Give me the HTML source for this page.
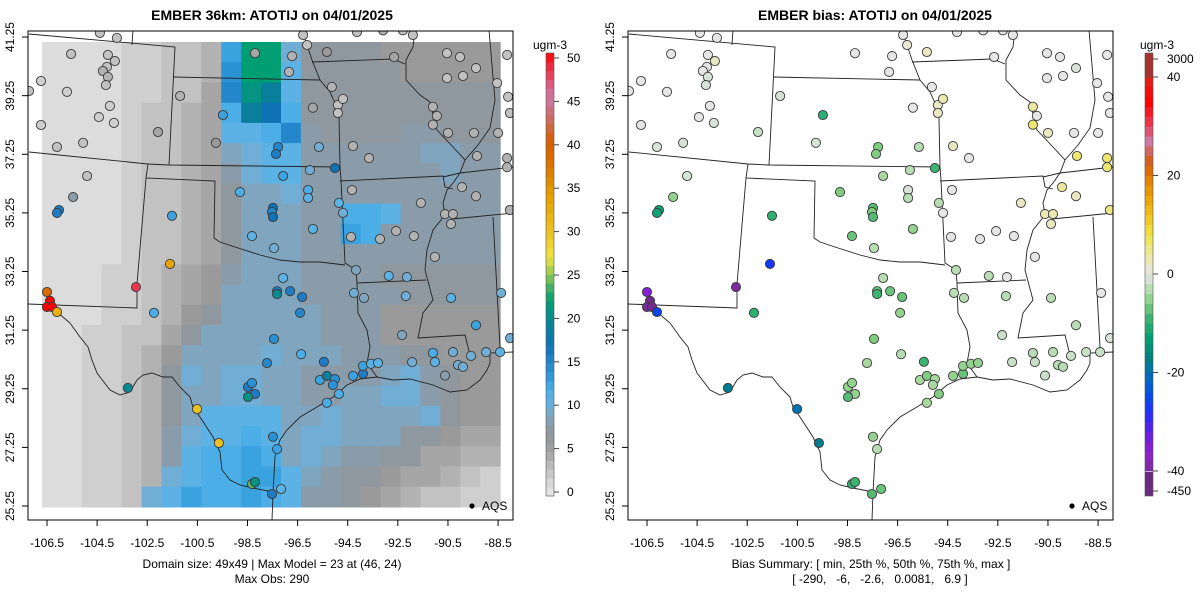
<!DOCTYPE html>
<html><head><meta charset="utf-8"><style>
html,body{margin:0;padding:0;background:#fff;}
svg{display:block;font-family:"Liberation Sans",Arial,sans-serif;}
</style></head><body>
<svg id="chart" width="1200" height="600" viewBox="0 0 1200 600" xmlns="http://www.w3.org/2000/svg">
<defs>
<clipPath id="clipL"><rect x="28" y="31" width="485" height="489"/></clipPath>
<clipPath id="clipR"><rect x="628" y="31" width="485" height="489"/></clipPath>
</defs>
<text x="272" y="20" font-size="14" font-weight="bold" text-anchor="middle">EMBER 36km: ATOTIJ on 04/01/2025</text>
<text x="875" y="20" font-size="14" font-weight="bold" text-anchor="middle">EMBER bias: ATOTIJ on 04/01/2025</text>
<g id="left-panel">
  <g id="gridL" clip-path="url(#clipL)"></g>
  <g id="bordersL" clip-path="url(#clipL)"></g>
  <g id="sitesL" clip-path="url(#clipL)"></g>
</g>
<g id="right-panel">
  <g id="bordersR" clip-path="url(#clipR)"></g>
  <g id="sitesR" clip-path="url(#clipR)"></g>
</g>
<g id="axes"></g>
<g id="cbars"></g>
<g><circle cx="472" cy="506" r="2.6" fill="#000"/><text x="482" y="510" font-size="12">AQS</text></g>
<g><circle cx="1072" cy="506" r="2.6" fill="#000"/><text x="1082" y="510" font-size="12">AQS</text></g>
<text x="272" y="568" font-size="12" text-anchor="middle">Domain size: 49x49 | Max Model = 23 at (46, 24)</text>
<text x="272" y="583" font-size="12" text-anchor="middle">Max Obs: 290</text>
<text x="871" y="568" font-size="12" text-anchor="middle">Bias Summary: [ min, 25th %, 50th %, 75th %, max ]</text>
<text x="880" y="583" font-size="12" text-anchor="middle" xml:space="preserve">[ -290,   -6,   -2.6,   0.0081,   6.9 ]</text>
</svg>
<script>
const NS="http://www.w3.org/2000/svg";
const xTicks=[-106.5,-104.5,-102.5,-100.5,-98.5,-96.5,-94.5,-92.5,-90.5,-88.5];
const yTicks=[25.25,27.25,29.25,31.25,33.25,35.25,37.25,39.25,41.25];
const concTicks=[0,5,10,15,20,25,30,35,40,45,50];
const biasTicks=[3000,40,20,0,-20,-40,-450];
const gridRows=[
"111122334dmma7777666666",
"111122334emmb7777766666",
"111122335fljb7777777777",
"111123345cjhc7777777777",
"111123345bbcf8777788777",
"1111233459abb8888889988",
"1111233458abb8888888988",
"111123345799a8888888888",
"111123345799988ccb88888",
"111123345799988dc888888",
"11112334579998888888888",
"11122345689998888777777",
"11122345699998888877777",
"11122346799999888666666",
"11223357999999888666666",
"11223469999a99988877666",
"1122347a9aa9988889a8766",
"112234799aa998899aa8766",
"11223479bbbb99a9999a766",
"1122348abbcb9aa99977655",
"1122348bccdc9a988775544",
"112234abccddb9877655432",
"11223abdccdcb8876543322"];
const siteLon=[-104.39,-103.71,-105.54,-104.07,-103.79,-104.11,-104.27,-104.07,-104.15,-106.74,-105.70,-107.22,-103.99,-104.43,-103.83,-106.74,-105.06,-106.10,-104.90,-105.46,-106.02,-106.10,-102.07,-101.19,-99.48,-99.76,-98.20,-96.72,-96.84,-97.28,-97.36,-95.65,-95.89,-95.13,-94.89,-94.69,-94.89,-96.12,-96.28,-95.33,-94.13,-93.09,-92.30,-91.90,-92.65,-94.29,-93.65,-95.01,-96.01,-97.08,-98.80,-96.08,-96.08,-94.85,-94.69,-94.33,-97.48,-97.52,-97.48,-101.51,-98.32,-95.89,-97.44,-94.37,-93.21,-92.57,-91.86,-91.02,-94.17,-92.86,-92.14,-101.59,-102.95,-106.50,-106.38,-106.50,-106.30,-106.10,-97.08,-90.54,-90.02,-89.38,-90.54,-89.90,-88.54,-88.14,-91.10,-90.94,-91.10,-90.50,-89.46,-88.50,-88.10,-88.03,-89.34,-88.14,-88.14,-89.94,-89.38,-91.58,-90.62,-90.30,-90.38,-88.03,-102.23,-103.27,-100.51,-99.64,-98.32,-98.20,-97.52,-97.16,-97.48,-97.32,-98.48,-98.32,-98.20,-98.48,-97.72,-96.36,-97.44,-96.40,-96.32,-96.80,-97.32,-97.32,-95.45,-95.61,-95.33,-95.01,-95.09,-94.85,-95.33,-94.29,-93.89,-93.89,-93.57,-93.29,-94.25,-93.85,-92.18,-90.38,-88.38,-89.38,-92.33,-91.10,-91.02,-91.93,-90.30,-89.58,-88.98,-88.42,-88.02,-90.10,-89.90,-90.62];
const siteLat=[41.39,41.22,40.67,40.64,40.43,40.23,40.09,39.89,39.61,39.75,39.38,39.41,38.90,38.52,38.32,38.25,37.64,37.50,36.51,35.79,35.35,35.25,38.01,39.24,38.59,37.64,40.70,40.60,40.06,37.50,37.26,37.50,38.84,39.55,38.93,39.14,38.66,40.98,41.32,40.74,41.42,41.48,41.48,41.32,40.57,37.53,37.12,36.78,36.71,36.51,35.96,36.03,35.76,35.59,35.25,36.03,35.42,35.28,35.11,35.15,34.46,34.70,34.05,34.43,34.36,34.63,34.46,33.75,33.30,33.10,33.06,33.51,32.72,32.55,32.25,32.04,32.04,31.87,33.03,40.70,40.57,40.19,39.85,39.92,39.68,40.64,38.87,38.56,38.26,37.98,37.98,37.98,39.21,38.66,37.19,37.12,36.81,36.13,35.82,35.59,35.21,35.21,34.87,35.35,31.84,29.28,28.56,27.40,26.00,26.07,25.66,25.83,27.61,27.19,29.31,29.45,29.07,28.97,30.13,30.43,30.95,31.84,32.38,32.58,32.58,32.48,30.17,29.55,29.69,29.58,29.38,29.07,28.77,29.69,29.76,30.03,30.10,30.13,32.52,32.35,32.41,32.35,32.52,31.42,31.08,30.47,30.16,30.16,30.50,30.37,30.50,30.50,30.98,30.06,30.00,29.70];
const obsVals=[3,3,3,3,3,3,4,4,3,2,2,3,2,2,2,2,3,3,3,8,16,16,5,4,13,6,5,4,4,15,16,10,5,4,3,3,3,3,3,6,3,4,3,3,5,4,4,17,10,13,12,12,11,11,10,4,17,15,17,13,11,11,10,4,4,4,4,4,9,11,10,33,48,38,50,50,50,32,11,3,3,3,3,3,3,3,4,4,4,4,4,4,3,3,4,4,4,4,4,4,4,4,4,4,12,20,30,30,24,21,16,11,14,13,16,14,16,21,15,12,14,15,16,16,16,20,16,13,19,14,14,12,12,13,16,13,11,11,10,9,10,11,10,13,9,12,11,10,10,10,10,11,10,10,10,8];
const biasVals=[0,0,0,0,2,0,0,-1,-1,0,0,0,0,0,-1,0,-1,-1,-1,-5,-12,-12,-2,-1,-10,-1,0,0,0,-6,-6,-3,0,0,2,3,2,1,0,2,0,0,0,0,0,2,0,-9,-3,-4,-6,-1,-3,-3,0,0,-8,-6,-8,-10,-7,-5,-3,0,0,0,0,0,-3,-3,0,-27,-40,-35,-290,-100,-200,-25,-3,0,0,-1,0,0,0,0,4,0,6,2,0,0,0,0,6,6,6,4,2,2,3,3,2,5,-10,-18,-20,-18,-10,-9,-8,-7,-5,-3,-5,-5,-5,-8,-4,-3,-6,-5,-7,-7,-7,-9,-9,-4,-6,-4,-4,-6,-4,-5,-7,-5,-5,-5,-3,-3,-3,-3,0,-3,-2,-3,-2,-2,-3,-2,-2,-2,-1,-3,-3,-2];

const xS=lon=>47+(lon+106.5)*25.06;
const yS=lat=>506-(lat-25.25)*29.31;
const hex=h=>[parseInt(h.slice(1,3),16),parseInt(h.slice(3,5),16),parseInt(h.slice(5,7),16)];
function ramp(stops,v){
  if(v<=stops[0][0])return stops[0][1];
  for(let i=1;i<stops.length;i++){ if(v<=stops[i][0]){const a=stops[i-1],b=stops[i];const t=(v-a[0])/(b[0]-a[0]);const c1=hex(a[1]),c2=hex(b[1]);return 'rgb('+c1.map((c,k)=>Math.round(c+(c2[k]-c)*t)).join(',')+')';}}
  return stops[stops.length-1][1];
}
const concStops=[[0,'#e8e8e8'],[1,'#dcdcdc'],[2,'#cfcfcf'],[3,'#c2c2c2'],[4,'#b2b2b2'],[5,'#a6a6a6'],[6,'#9a9a9a'],[7,'#90989f'],[8,'#8a9ca9'],[9,'#80a5be'],[10,'#70aed6'],[11,'#5cb2e4'],[12,'#4caee6'],[13,'#3aa2de'],[14,'#2a92d4'],[16,'#1e7cc4'],[17,'#0f72b4'],[19,'#0a7f9c'],[20,'#0a8890'],[22,'#009e73'],[23,'#2aa868'],[24,'#5ab860'],[25,'#90c850'],[26,'#c0d450'],[27,'#f0e442'],[30,'#ecc020'],[34,'#e69f00'],[38,'#d86e00'],[40,'#d55e00'],[43,'#cc7070'],[45,'#cc79a7'],[47,'#e05070'],[49,'#f02030'],[50,'#ff0000']];
const biasStops=[[-450,'#6a2a80'],[-40,'#7a2a9a'],[-36,'#9020d0'],[-32,'#6020e0'],[-28,'#2030ff'],[-24,'#0050e0'],[-20,'#0072b2'],[-17,'#008080'],[-13,'#009e73'],[-9,'#3cb371'],[-6,'#80cc80'],[-4,'#a8d8a0'],[-2,'#c8e0c8'],[0,'#e6e6e6'],[4,'#ede8a0'],[8,'#f0e442'],[12,'#f0c020'],[16,'#e69f00'],[20,'#e07b00'],[22,'#d55e00'],[24,'#d06040'],[27,'#cc79a7'],[30,'#e8405a'],[35,'#ff0000'],[40,'#e0201a'],[3000,'#a83232']];

function el(tag,attrs,parent){const e=document.createElementNS(NS,tag);for(const k in attrs)e.setAttribute(k,attrs[k]);parent.appendChild(e);return e;}

const gridL=document.getElementById('gridL');
const lonMin=-106.70,lonMax=-88.42,latMax=41.08,latMin=25.22;
const nR=gridRows.length,nC=23;
for(let r=0;r<nR;r++){
  for(let c=0;c<nC;c++){
    const ch=gridRows[r][Math.min(c,gridRows[r].length-1)];
    const v=parseInt(ch,36);
    const lo0=lonMin+(lonMax-lonMin)*c/nC, lo1=lonMin+(lonMax-lonMin)*(c+1)/nC;
    const la0=latMax-(latMax-latMin)*r/nR, la1=latMax-(latMax-latMin)*(r+1)/nR;
    const x0=xS(lo0),x1=xS(lo1),y0=yS(la0),y1=yS(la1);
    const rc=el('rect',{x:x0.toFixed(1),y:y0.toFixed(1),width:(x1-x0+0.6).toFixed(1),height:(y1-y0+0.6).toFixed(1),fill:ramp(concStops,v)},gridL);
    
    
  }
}

const borders=[
 [[29,34],[175,47],[169,165]],[[133,30],[132,45]],
 [[173,77],[320,80]],
 [[302,30],[312,60],[320,80],[330,92],[335,103],[339,118],[340,167],[341,180],[345,263],[356,270],[357,283]],
 [[312,62],[393,59],[405,64]],
 [[415,30],[413,47],[406,60],[406,80],[420,95],[430,102],[437,130],[453,147],[465,160],[460,173],[453,183],[447,190],[443,203],[445,215],[433,230],[427,250],[425,270],[433,300],[423,313],[418,338],[465,335],[470,355]],
 [[489,30],[495,100],[490,128],[478,145],[465,160]],
 [[443,177],[460,173],[513,167]],
 [[340,181],[443,176],[445,187],[453,189]],
 [[452,219],[513,213]],[[493,217],[500,347],[502,353]],
 [[29,152],[148,164],[169,165],[340,167]],
 [[148,164],[146,178],[215,181],[214,238],[220,242],[235,247],[260,255],[280,260],[300,262],[320,262],[345,265]],
 [[146,178],[137,284],[137,308],[28,304]],
 [[357,283],[426,280]],
 [[357,283],[358,313],[367,330],[370,347],[367,363],[377,377]],
 [[57,312],[70,323],[80,337],[88,347],[92,360],[97,373],[110,390],[120,395],[130,392],[137,380],[143,375],[152,373],[163,377],[172,377],[180,387],[190,397],[193,407],[200,417],[213,437],[220,452],[222,470],[230,480],[240,485],[253,488],[273,492]],
 [[272,520],[273,493],[275,457],[280,440],[287,430],[300,417],[317,407],[333,397],[347,385],[360,379],[377,377],[393,380],[410,379],[433,385],[450,392],[467,390],[480,380],[487,370],[490,363],[490,353],[513,352]]
];
[['bordersL',0],['bordersR',600]].forEach(([id,off])=>{
  const g=document.getElementById(id);
  borders.forEach(b=>{
    const p=el('polyline',{points:b.map(q=>(q[0]+off)+','+q[1]).join(' '),fill:'none',stroke:'#222','stroke-width':'0.9'},g);
    
    
  });
});

const sL=document.getElementById('sitesL'),sR=document.getElementById('sitesR');
for(let i=0;i<siteLon.length;i++){
  const x=xS(siteLon[i]),y=yS(siteLat[i]);
  const a=el('circle',{cx:x.toFixed(1),cy:y.toFixed(1),r:4.6,fill:ramp(concStops,obsVals[i]),stroke:'#3a3a3a','stroke-width':'0.9'},sL);
  
  
  const b=el('circle',{cx:(x+600).toFixed(1),cy:y.toFixed(1),r:4.6,fill:ramp(biasStops,biasVals[i]),stroke:'#3a3a3a','stroke-width':'0.9'},sR);
  
  
}

const ax=document.getElementById('axes');
[0,600].forEach(off=>{
  const bx=el('rect',{x:28+off,y:31,width:485,height:489,fill:'none',stroke:'#000','stroke-width':'1'},ax);
  
  
  xTicks.forEach(t=>{
    const x=xS(t)+off;
    el('line',{x1:x,x2:x,y1:520,y2:526,stroke:'#000'},ax);
    const tx=el('text',{x:x,y:547,'font-size':12,'text-anchor':'middle'},ax);
    tx.textContent=t.toFixed(1);
    
    
  });
  yTicks.forEach(t=>{
    const y=yS(t);
    el('line',{x1:28+off,x2:22+off,y1:y,y2:y,stroke:'#000'},ax);
    const tx=el('text',{x:0,y:0,'font-size':12,'text-anchor':'middle',transform:'translate('+(14+off)+','+y+') rotate(-90)'},ax);
    tx.textContent=t.toFixed(2);
    
    
  });
});

const cb=document.getElementById('cbars');
const cTop=53,cBot=496;
for(let v=0;v<50;v++){
  const y0=cBot-(v+1)*(cBot-cTop)/50,y1=cBot-v*(cBot-cTop)/50;
  el('rect',{x:546,y:y0,width:8,height:y1-y0+0.4,fill:ramp(concStops,v+0.5)},cb);
}
el('rect',{x:546,y:cTop,width:8,height:cBot-cTop,fill:'none',stroke:'#555','stroke-width':'0.6'},cb);
const cy=v=>492-v*(492-58)/50;
concTicks.forEach(t=>{
  el('line',{x1:554,x2:559,y1:cy(t),y2:cy(t),stroke:'#444'},cb);
  const tx=el('text',{x:567,y:cy(t)+4,'font-size':12},cb);
  tx.textContent=t;
  
  
});
const u1=el('text',{x:550,y:49,'font-size':12,'text-anchor':'middle'},cb);u1.textContent='ugm-3';


const by=v=>{ if(v>40)return 78-(Math.min(v,3000)-40)/(2960)*19; if(v<-40)return 472+(Math.min(-v,450)-40)/410*19; return 274-v*(472-78)/80;};
for(let v=-40;v<40;v+=2){ el('rect',{x:1145,y:by(v+2),width:8,height:by(v)-by(v+2)+0.4,fill:ramp(biasStops,v+1)},cb); }
el('rect',{x:1145,y:cTop,width:8,height:78-cTop,fill:'#a83232'},cb);
el('rect',{x:1145,y:472,width:8,height:cBot-472,fill:'#6a2a80'},cb);
el('rect',{x:1145,y:cTop,width:8,height:cBot-cTop,fill:'none',stroke:'#555','stroke-width':'0.6'},cb);
biasTicks.forEach(t=>{
  const y=t===3000?59:(t===-450?491:by(t));
  el('line',{x1:1153,x2:1158,y1:y,y2:y,stroke:'#444'},cb);
  const tx=el('text',{x:1167,y:y+4,'font-size':12},cb);
  tx.textContent=t;
  
  
});
const u2=el('text',{x:1157,y:49,'font-size':12,'text-anchor':'middle'},cb);u2.textContent='ugm-3';


</script>
</body></html>
